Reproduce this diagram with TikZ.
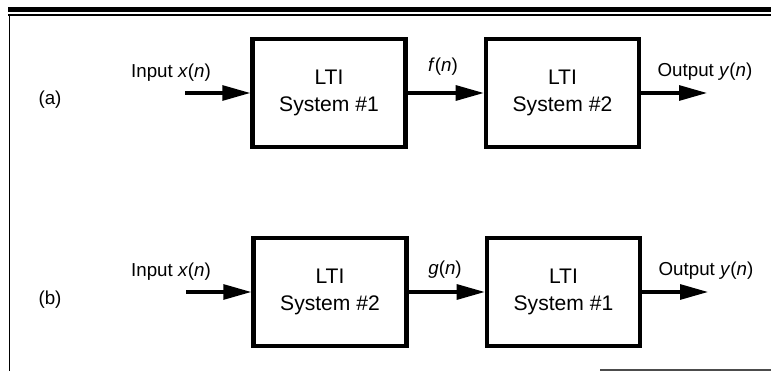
\documentclass[tikz,border=0pt]{standalone}
\usepackage{fontspec}
\setmainfont{Liberation Sans}
\usetikzlibrary{arrows.meta,positioning}

\begin{document}
\begin{tikzpicture}[x=0.03cm, y=-0.03cm,
        ltibox/.style={draw, line width=3.8pt, minimum width=4.59cm, minimum height=3.24cm,
            align=center, font=\fontsize{18}{23}\selectfont},
        sig/.style={line width=2.6pt, -{Triangle[length=0.84cm, width=0.45cm]}},
        lbl/.style={font=\fontsize{16}{19}\selectfont, inner sep=0pt}]
    \useasboundingbox (0,0) rectangle (771,371);

    % Cadre
    \draw[line width=4.3pt] (8,9.5) -- (771,9.5);
    \draw[line width=0.9pt] (8,15) -- (771,15);
    \draw[line width=1pt] (9.5,15) -- (9.5,371);
    \draw[line width=0.9pt, black!70] (600,370) -- (771,370);

    % Cascade (a)
    \node[lbl] (tagA) at (50,100) {(a)};
    \node[ltibox] (sysAa) at (329,93) {LTI\\System \#1};
    \node[ltibox, right=2.28cm of sysAa] (sysAb) {LTI\\System \#2};
    \coordinate (inA) at (185,93);
    \coordinate (outA) at (707,93);
    \draw[sig] (inA) -- (sysAa);
    \draw[sig] (sysAa) -- (sysAb);
    \draw[sig] (sysAb) -- (outA);
    \node[lbl, anchor=base] (xA) at (171,78) {Input \textit{x}(\textit{n})};
    \node[lbl, anchor=base] (fA) at (443,72) {\textit{f}(\textit{n})};
    \node[lbl, anchor=base] (yA) at (705,77) {Output \textit{y}(\textit{n})};

    % Cascade (b)
    \node[lbl] (tagB) at (50,300) {(b)};
    \node[ltibox] (sysBa) at (330,292) {LTI\\System \#2};
    \node[ltibox, right=2.28cm of sysBa] (sysBb) {LTI\\System \#1};
    \coordinate (inB) at (186,292);
    \coordinate (outB) at (708,292);
    \draw[sig] (inB) -- (sysBa);
    \draw[sig] (sysBa) -- (sysBb);
    \draw[sig] (sysBb) -- (outB);
    \node[lbl, anchor=base] (xB) at (171,277) {Input \textit{x}(\textit{n})};
    \node[lbl, anchor=base] (gB) at (445,275) {\textit{g}(\textit{n})};
    \node[lbl, anchor=base] (yB) at (706,276) {Output \textit{y}(\textit{n})};

\end{tikzpicture}
\end{document}
